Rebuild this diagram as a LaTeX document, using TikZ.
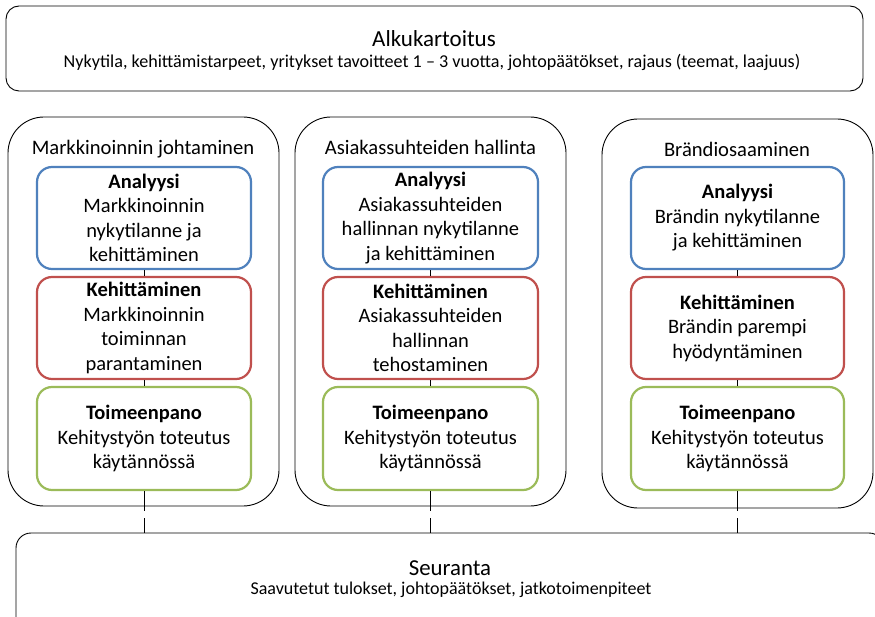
\documentclass[tikz,border=0pt]{standalone}
\usepackage{fontspec}
\setmainfont{Carlito}
\definecolor{cblue}{HTML}{4F81BD}
\definecolor{cred}{HTML}{C0504D}
\definecolor{cgreen}{HTML}{9BBB59}
\tikzset{
  mainbox/.style={draw=black, line width=0.9pt, rounded corners=13pt, inner sep=0pt},
  groupbox/.style={draw=black, line width=0.9pt, rounded corners=36pt, inner sep=0pt},
  stagebox/.style={line width=2.2pt, rounded corners=15pt, inner sep=0pt, align=center,
     font=\fontsize{20.5}{24.5}\selectfont},
  bluebox/.style={stagebox, draw=cblue},
  redbox/.style={stagebox, draw=cred},
  greenbox/.style={stagebox, draw=cgreen},
  gtitle/.style={anchor=base, inner sep=0pt, font=\fontsize{20.6}{24}\selectfont},
  link/.style={draw=black, line width=0.8pt},
  dlink/.style={draw=black, line width=0.8pt, dash pattern=on 20pt off 7pt}
}
\begin{document}
\begin{tikzpicture}[x=1pt,y=-1pt]
\useasboundingbox (0,0) rectangle (875,617);
\clip (0,0) rectangle (875,617);
\fill[white] (0,0) rectangle (875,617);
% top box
\node[mainbox, minimum width=857pt, minimum height=85pt] (alku) at (434.5,48.5) {};
\node[anchor=base, inner sep=0pt, font=\fontsize{23}{26}\selectfont] (alkut) at (434,46.5) {Alkukartoitus};
\node[anchor=base, inner sep=0pt, font=\fontsize{18.1}{22}\selectfont] (alkus) at (432,67.5) {Nykytila, kehittämistarpeet, yritykset tavoitteet 1 – 3 vuotta, johtopäätökset, rajaus (teemat, laajuus)};
% bottom box
\node[mainbox, rounded corners=15pt, minimum width=868pt, minimum height=100pt] (seur) at (450,583) {};
\node[anchor=base, inner sep=0pt, font=\fontsize{22.8}{26}\selectfont] (seurt) at (450,575) {Seuranta};
\node[anchor=base, inner sep=0pt, font=\fontsize{18}{22}\selectfont] (seurs) at (451,594) {Saavutetut tulokset, johtopäätökset, jatkotoimenpiteet};
% groups
\node[groupbox, minimum width=271pt, minimum height=389pt] (g1) at (143.5,311.5) {};
\node[groupbox, minimum width=271pt, minimum height=389pt] (g2) at (430.5,311.5) {};
\node[groupbox, minimum width=271pt, minimum height=389pt] (g3) at (737.5,313.5) {};
\node[gtitle] (g1t) at (143,155) {Markkinoinnin johtaminen};
\node[gtitle] (g2t) at (430.5,155) {Asiakassuhteiden hallinta};
\node[gtitle] (g3t) at (737,157) {Brändiosaaminen};
% group 1
\node[bluebox, minimum width=214pt, minimum height=102pt] (a1) at (144,218) {\textbf{Analyysi}\\Markkinoinnin\\nykytilanne ja\\kehittäminen};
\node[redbox, minimum width=214pt, minimum height=102pt] (k1) at (144,328) {\textbf{Kehittäminen}\\Markkinoinnin\\toiminnan\\parantaminen};
\node[greenbox, minimum width=214pt, minimum height=103pt] (t1) at (144,438.5) {\textbf{Toimeenpano}\\Kehitystyön toteutus\\käytännössä};
% group 2
\node[bluebox, minimum width=215pt, minimum height=102pt] (a2) at (430.5,218) {\textbf{Analyysi}\\Asiakassuhteiden\\hallinnan nykytilanne\\ja kehittäminen};
\node[redbox, minimum width=215pt, minimum height=102pt] (k2) at (430.5,328) {\textbf{Kehittäminen}\\Asiakassuhteiden\\hallinnan\\tehostaminen};
\node[greenbox, minimum width=215pt, minimum height=103pt] (t2) at (430.5,438.5) {\textbf{Toimeenpano}\\Kehitystyön toteutus\\käytännössä};
% group 3
\node[bluebox, minimum width=213pt, minimum height=102pt] (a3) at (737.5,218) {\textbf{Analyysi}\\Brändin nykytilanne\\ja kehittäminen};
\node[redbox, minimum width=213pt, minimum height=102pt] (k3) at (737.5,328) {\textbf{Kehittäminen}\\Brändin parempi\\hyödyntäminen};
\node[greenbox, minimum width=213pt, minimum height=103pt] (t3) at (737.5,438.5) {\textbf{Toimeenpano}\\Kehitystyön toteutus\\käytännössä};
% connectors
\foreach \i in {1,2,3} {
  \draw[link] (a\i.south) -- (k\i.north);
  \draw[link] (k\i.south) -- (t\i.north);
  \draw[dlink] (t\i.south) -- (t\i.south |- seur.north);
}
\end{tikzpicture}
\end{document}
